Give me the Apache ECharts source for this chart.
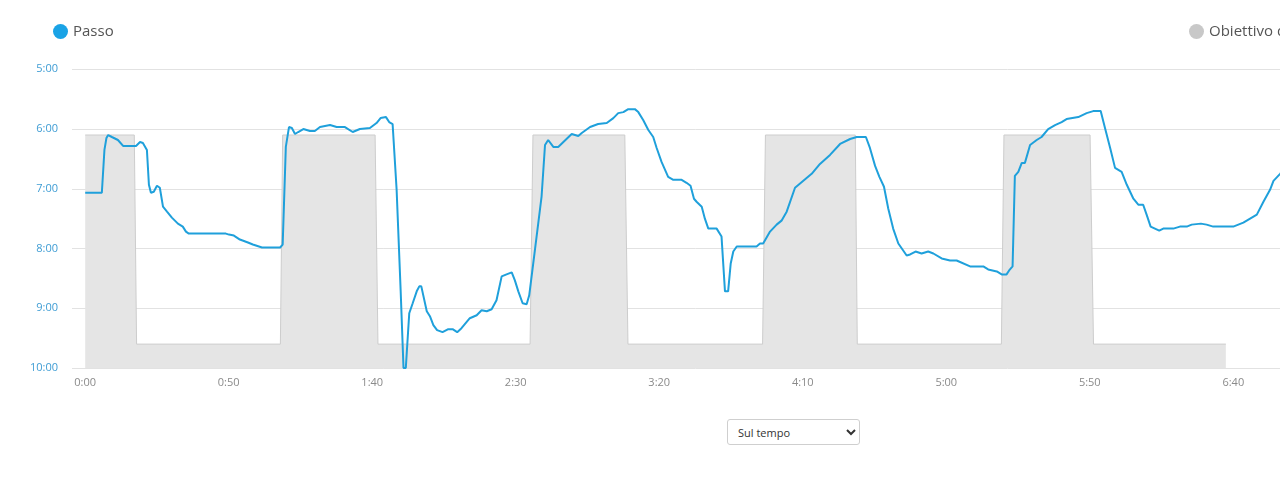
<!DOCTYPE html>
<html>
<head>
<meta charset="utf-8">
<script src="https://cdn.jsdelivr.net/npm/echarts@6/dist/echarts.min.js"></script>
<style>
  html, body { margin: 0; padding: 0; background: #fff; overflow: hidden; width: 1280px; height: 498px; }
  #chart { position: absolute; left: 0; top: 0; width: 1340px; height: 400px; }
  #mode {
    position: absolute; left: 727px; top: 419px; width: 133px; height: 26px;
    font-family: 'Open Sans', sans-serif; font-size: 11px; color: #333;
    border: 1px solid #cfcfcf; border-radius: 3px; background: #fff; padding: 0 6px;
  }
</style>
</head>
<body>
<div id="chart"></div>
<select id="mode"><option>Sul tempo</option></select>
<script>
// x: elapsed seconds, y: pace in seconds per km
const paceSec = [
  0, 5.8, 6.7, 7.4, 8.0, 9.3, 11.4, 13.2, 15.6, 17.7, 19.1, 20.1, 21.5, 22.2, 22.9, 23.9,
  25.0, 26.0, 27.1, 28.5, 30.2, 32.3, 34.0, 35.1, 36.1, 49.0, 50.1, 51.8, 53.9, 56.7, 58.4,
  61.6, 67.9, 68.8, 69.9, 71.0, 72.0, 73.1, 74.2, 76.0, 78.3, 80.0, 81.8, 85.3, 87.6, 90.5,
  93.2, 95.7, 99.2, 101.5, 102.9, 104.8, 105.9, 107.1, 108.5, 109.9, 110.9, 111.7, 112.9,
  114.1, 115.5, 116.4, 117.1, 119.0, 120.1, 121.3, 122.6, 124.5, 126.5, 128.0, 129.6, 131.1,
  134.0, 136.4, 138.1, 139.9, 141.6, 143.3, 145.1, 146.8, 148.6, 149.7, 150.9, 152.4, 153.8,
  154.7, 156.7, 159.0, 160.2, 161.3, 161.9, 163.1, 164.8, 166.6, 169.5, 171.8, 173.0, 175.9,
  178.7, 181.7, 184.0, 185.7, 187.5, 189.2, 191.5, 192.7, 194.4, 196.2, 197.9, 199.1, 200.8,
  203.1, 204.9, 207.8, 209.5, 210.9, 212.1, 213.0, 214.8, 215.9, 217.1, 220.0, 221.7, 222.9,
  224.0, 224.9, 225.8, 227.0, 233.9, 235.1, 236.2, 238.6, 240.9, 242.6, 244.4, 247.3, 250.2,
  253.1, 256.0, 259.5, 263.0, 266.5, 268.8, 272.0, 273.4, 275.2, 276.7, 278.3, 279.8, 281.5,
  283.3, 286.2, 287.4, 289.3, 291.4, 293.7, 295.5, 298.4, 301.3, 303.6, 308.3, 312.9, 314.6,
  317.6, 319.3, 321.0, 321.9, 323.1, 323.9, 325.1, 326.3, 327.4, 329.2, 331.5, 333.2, 335.5,
  337.9, 340.2, 341.9, 346.0, 348.9, 351.2, 353.8, 355.3, 357.1, 358.8, 361.1, 362.9, 365.2,
  366.9, 368.6, 369.8, 371.2, 372.7, 374.2, 375.6, 379.1, 381.4, 383.8, 385.5, 388.7, 390.7,
  393.0, 400.0, 403.5, 408.2, 410.5, 412.8, 414.0, 416.3, 419.0, 422.0
]
const paceValue = [
  424, 424, 381, 369, 366, 368, 371, 377, 377, 377, 373, 374, 381, 416, 424, 423,
  417, 419, 438, 443, 449, 455, 458, 463, 465, 465, 466, 467, 471, 474, 476,
  479, 479, 476, 378, 358, 359, 365, 363, 360, 362, 362, 358, 356, 358, 358,
  363, 360, 359, 354, 349, 348, 353, 355, 421, 522, 600, 600, 545,
  535, 523, 518, 518, 543, 548, 557, 562, 564, 561, 561, 564, 560,
  550, 547, 542, 543, 541, 532, 508, 506, 504, 512, 523, 535, 536,
  527, 481, 428, 376, 371, 371, 378, 378, 373, 365, 367, 364, 358,
  355, 354, 349, 344, 343, 340, 340, 343, 351, 361, 368, 379, 393,
  408, 411, 411, 414, 417, 430, 433, 438, 450, 460, 460, 468, 523,
  523, 495, 483, 478, 478, 475, 475, 463, 456, 452, 443, 419, 412,
  405, 395, 386, 375, 370, 368, 368, 379, 397, 408, 418, 440, 460,
  475, 487, 486, 483, 485, 483, 485, 490, 492, 492, 498, 498, 501,
  503, 506, 506, 502, 498, 407, 403, 394, 394, 376, 371, 368, 360,
  356, 353, 350, 348, 344, 342, 342, 359, 379, 399, 403, 416, 430,
  436, 436, 446, 458, 460, 462, 460, 460, 458, 458, 456, 455, 456,
  458, 458, 454, 446, 433, 421, 412, 405, 395, 388
]

const targetSec = [0, 17.1, 17.9, 68.0, 68.8, 101.0, 102.0, 155.0, 156.0, 188.0, 189.1,
  236.0, 237.0, 268.3, 269.0, 319.2, 320.1, 350.1, 351.3, 397.4]
const targetValue = [366, 366, 576, 576, 366, 366, 576, 576, 366, 366, 576,
  576, 366, 366, 576, 576, 366, 366, 576, 576]

const xLabels = [0, 50, 100, 150, 200, 250, 300, 350, 400]

const fmt = v => Math.floor(v / 60) + ':' + String(Math.round(v % 60)).padStart(2, '0')

const chart = echarts.init(document.getElementById('chart'), null, { renderer: 'canvas' })
chart.setOption({
  animation: false,
  backgroundColor: '#fff',
  textStyle: { fontFamily: "'Open Sans', sans-serif" },
  grid: { left: 72, right: 20.6, top: 69.3, bottom: 32 },
  legend: [
    {
      data: [{ name: 'Passo', itemStyle: { color: '#1aa3e6' } }],
      left: 48, top: 19, icon: 'circle', itemWidth: 15, itemHeight: 15, itemGap: 6,
      textStyle: { color: '#555', fontSize: 15, fontFamily: "'Open Sans', sans-serif" }
    },
    {
      data: [{ name: 'Obiettivo di passo', itemStyle: { color: '#c8c8c8' } }],
      left: 1184, top: 19, icon: 'circle', itemWidth: 15, itemHeight: 15,
      textStyle: { color: '#555', fontSize: 15, fontFamily: "'Open Sans', sans-serif" }
    }
  ],
  xAxis: {
    type: 'value',
    min: -4.6,
    max: 430,
    axisLine: { show: false },
    axisTick: { show: false },
    splitLine: { show: false },
    axisLabel: {
      customValues: xLabels,
      formatter: fmt,
      color: '#8a8a8a', fontSize: 11, margin: 9
    }
  },
  yAxis: {
    type: 'value',
    inverse: true,
    min: 300,
    max: 600,
    interval: 60,
    axisLine: { show: false },
    axisTick: { show: false },
    splitLine: { lineStyle: { color: '#e2e2e2', width: 1 } },
    axisLabel: { formatter: fmt, color: '#3f9dd4', fontSize: 11, margin: 14 }
  },
  series: [
    {
      name: 'Obiettivo di passo',
      type: 'line',
      data: targetSec.map((t, i) => [t, targetValue[i]]),
      symbol: 'none',
      lineStyle: { color: '#cdcdcd', width: 1 },
      itemStyle: { color: '#c8c8c8' },
      areaStyle: { color: '#e5e5e5', opacity: 1, origin: 'end' },
      z: 1
    },
    {
      name: 'Passo',
      type: 'line',
      data: paceSec.map((t, i) => [t, paceValue[i]]),
      symbol: 'none',
      lineStyle: { color: '#1fa0db', width: 2 },
      itemStyle: { color: '#1aa3e6' },
      z: 3
    }
  ]
})
</script>
</body>
</html>
